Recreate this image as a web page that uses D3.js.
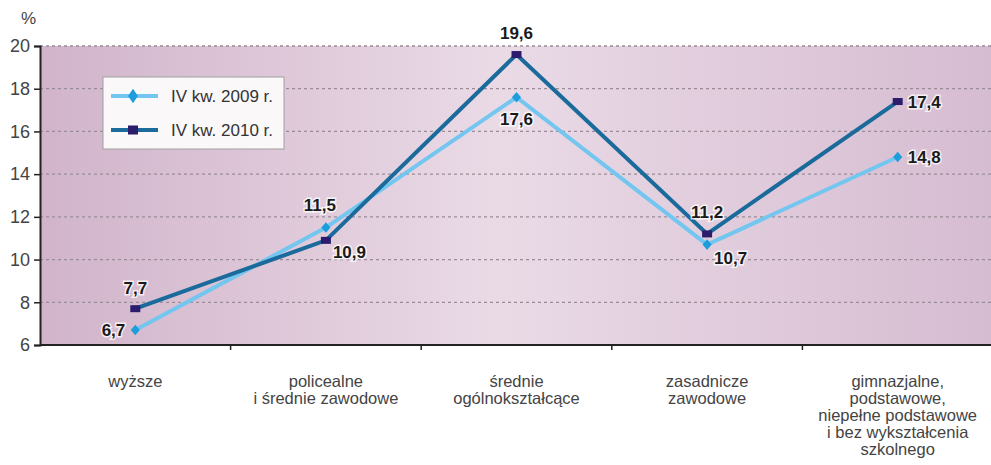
<!DOCTYPE html>
<html>
<head>
<meta charset="utf-8">
<script src="https://cdn.jsdelivr.net/npm/d3@7"></script>
<style>
  body { margin: 0; background: #fff; }
  text { font-family: "Liberation Sans", Arial, sans-serif; }
</style>
</head>
<body>
<svg id="drawing_region"></svg>
<script>
// data
const categories = [
  ['wyższe'],
  ['policealne', 'i średnie zawodowe'],
  ['średnie', 'ogólnokształcące'],
  ['zasadnicze', 'zawodowe'],
  ['gimnazjalne,', 'podstawowe,', 'niepełne podstawowe', 'i bez wykształcenia', 'szkolnego']
];
const series_names = ['IV kw. 2009 r.', 'IV kw. 2010 r.'];
const values_2009 = [6.7, 11.5, 17.6, 10.7, 14.8];
const values_2010 = [7.7, 10.9, 19.6, 11.2, 17.4];
const y_ticks = [6, 8, 10, 12, 14, 16, 18, 20];

// label placement per point: [dx, dy, anchor]
const pos_2009 = [[-10, 6, 'end'], [-6, -17, 'middle'], [0, 28, 'middle'], [7, 19, 'start'], [10, 6, 'start']];
const pos_2010 = [[0, -15, 'middle'], [7, 18, 'start'], [0, -16, 'middle'], [0, -16, 'middle'], [10, 6, 'start']];

const config = {
  width: 991, height: 465,
  margin: {top: 46, right: -2, bottom: 120, left: 40}
};

const svg = d3.select('#drawing_region')
    .attr('width', config.width)
    .attr('height', config.height);

const inner_width = config.width - config.margin.left - config.margin.right;
const inner_height = config.height - config.margin.top - config.margin.bottom;

const defs = svg.append('defs');
const grad = defs.append('linearGradient').attr('id', 'bg')
    .attr('x1', 0).attr('x2', 1).attr('y1', 0).attr('y2', 0);
grad.append('stop').attr('offset', '0%').attr('stop-color', '#d1b4ca');
grad.append('stop').attr('offset', '48%').attr('stop-color', '#eadae6');
grad.append('stop').attr('offset', '100%').attr('stop-color', '#d6bcd1');

const chart = svg.append('g')
    .attr('transform', `translate(${config.margin.left}, ${config.margin.top})`);

const xscale = d3.scaleBand()
    .domain(d3.range(categories.length))
    .range([0, inner_width])
    .padding(0);

const yscale = d3.scaleLinear()
    .domain([6, 20])
    .range([inner_height, 0]);

const cx = i => xscale(i) + xscale.bandwidth() / 2;

chart.append('rect')
    .attr('x', 0).attr('y', 0)
    .attr('width', inner_width).attr('height', inner_height)
    .attr('fill', 'url(#bg)');

// gridlines
chart.selectAll('.grid')
    .data(y_ticks.filter(d => d > 6))
    .enter().append('line')
    .attr('x1', 0).attr('x2', inner_width)
    .attr('y1', d => yscale(d)).attr('y2', d => yscale(d))
    .attr('stroke', '#9a8c96')
    .attr('stroke-width', 1.3)
    .attr('stroke-dasharray', '3,3');

// axes
const yaxis = d3.axisLeft(yscale).tickValues(y_ticks).tickSize(6).tickPadding(4);
const yaxis_group = chart.append('g').call(yaxis);
yaxis_group.select('.domain').attr('stroke', '#222').attr('stroke-width', 2);
yaxis_group.selectAll('.tick line').attr('stroke', '#222').attr('stroke-width', 1.5);
yaxis_group.selectAll('.tick text')
    .attr('font-size', 18).attr('fill', '#444')
    .style('font-family', '"Liberation Sans", Arial, sans-serif');

chart.append('line')
    .attr('x1', 0).attr('x2', inner_width)
    .attr('y1', inner_height).attr('y2', inner_height)
    .attr('stroke', '#222').attr('stroke-width', 2);

chart.selectAll('.xtick')
    .data(d3.range(1, categories.length))
    .enter().append('line')
    .attr('x1', d => xscale(d)).attr('x2', d => xscale(d))
    .attr('y1', inner_height).attr('y2', inner_height + 5)
    .attr('stroke', '#222').attr('stroke-width', 1.5);

// category labels
categories.forEach((lines, i) => {
  const t = chart.append('text')
      .attr('x', cx(i))
      .attr('y', inner_height + 42)
      .attr('text-anchor', 'middle')
      .attr('font-size', 16.5)
      .attr('fill', '#444');
  lines.forEach((ln, j) => {
    t.append('tspan').attr('x', cx(i)).attr('dy', j === 0 ? 0 : 17).text(ln);
  });
});

svg.append('text')
    .attr('x', 21).attr('y', 24)
    .attr('font-size', 17).attr('fill', '#444')
    .text('%');

// lines
const line = d3.line().x((d, i) => cx(i)).y(d => yscale(d));

chart.append('path').datum(values_2009)
    .attr('d', line).attr('fill', 'none')
    .attr('stroke', '#72c6ef').attr('stroke-width', 4);
chart.append('path').datum(values_2010)
    .attr('d', line).attr('fill', 'none')
    .attr('stroke', '#1a6a9c').attr('stroke-width', 4);

// markers
const diamond = d3.symbol().type(d3.symbolDiamond).size(50);
chart.selectAll('.m2009')
    .data(values_2009)
    .enter().append('path')
    .attr('d', diamond)
    .attr('transform', (d, i) => `translate(${cx(i)}, ${yscale(d)}) scale(1.2, 0.8)`)
    .attr('fill', '#1d9ddc');

chart.selectAll('.m2010')
    .data(values_2010)
    .enter().append('rect')
    .attr('x', (d, i) => cx(i) - 5)
    .attr('y', d => yscale(d) - 3.5)
    .attr('width', 10).attr('height', 7)
    .attr('fill', '#2c1c6e');

// value labels
const fmt = v => String(v.toFixed(1)).replace('.', ',');
function labels(values, pos) {
  chart.selectAll(null)
      .data(values)
      .enter().append('text')
      .attr('x', (d, i) => cx(i) + pos[i][0])
      .attr('y', (d, i) => yscale(d) + pos[i][1])
      .attr('text-anchor', (d, i) => pos[i][2])
      .attr('font-size', 17)
      .attr('font-weight', 'bold')
      .attr('fill', '#1a1a1a')
      .attr('stroke', '#ffffff')
      .attr('stroke-opacity', 0.75)
      .attr('stroke-width', 3)
      .attr('paint-order', 'stroke')
      .text(d => fmt(d));
}
labels(values_2009, pos_2009);
labels(values_2010, pos_2010);

// legend
const legend = svg.append('g').attr('transform', 'translate(103, 77)');
legend.append('rect')
    .attr('x', 0).attr('y', 0).attr('width', 181).attr('height', 72)
    .attr('fill', '#fbf8fa').attr('stroke', '#a0a0a0').attr('stroke-width', 1);
const lcolors = ['#72c6ef', '#1a6a9c'];
series_names.forEach((name, i) => {
  const yy = 19 + i * 34;
  legend.append('line')
      .attr('x1', 8).attr('x2', 55).attr('y1', yy).attr('y2', yy)
      .attr('stroke', lcolors[i]).attr('stroke-width', 4);
  if (i === 0) {
    legend.append('path').attr('d', diamond)
        .attr('transform', `translate(30, ${yy}) scale(1.3, 1.1)`)
        .attr('fill', '#1d9ddc');
  } else {
    legend.append('rect').attr('x', 25).attr('y', yy - 4.5)
        .attr('width', 10).attr('height', 9).attr('fill', '#2c1c6e');
  }
  legend.append('text')
      .attr('x', 68).attr('y', yy + 6)
      .attr('font-size', 17).attr('fill', '#333')
      .text(name);
});
</script>
</body>
</html>
